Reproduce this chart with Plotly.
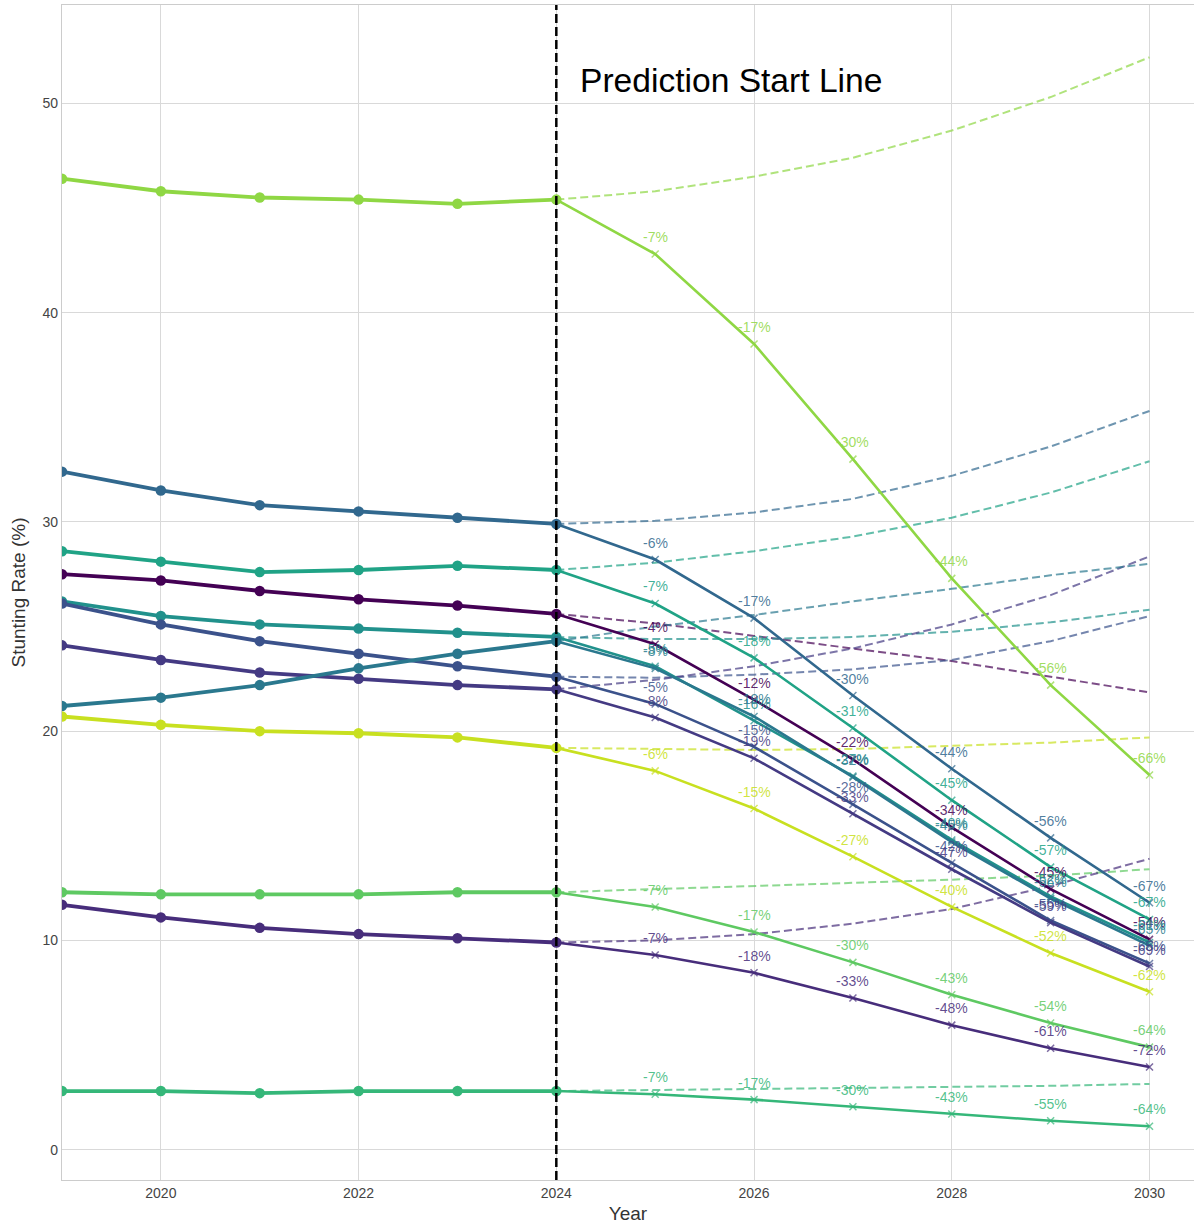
import plotly.graph_objects as go

years_hist = [2019, 2020, 2021, 2022, 2023, 2024]
years_pred = [2024, 2025, 2026, 2027, 2028, 2029, 2030]

series_names = ["A", "B", "C", "D", "E", "F", "G", "H", "I", "J", "K", "L"]

hist_rates = [
    [46.4, 45.8, 45.5, 45.4, 45.2, 45.4],
    [32.4, 31.5, 30.8, 30.5, 30.2, 29.9],
    [28.6, 28.1, 27.6, 27.7, 27.9, 27.7],
    [27.5, 27.2, 26.7, 26.3, 26.0, 25.6],
    [26.2, 25.5, 25.1, 24.9, 24.7, 24.5],
    [26.1, 25.1, 24.3, 23.7, 23.1, 22.6],
    [24.1, 23.4, 22.8, 22.5, 22.2, 22.0],
    [21.2, 21.6, 22.2, 23.0, 23.7, 24.3],
    [20.7, 20.3, 20.0, 19.9, 19.7, 19.2],
    [12.3, 12.2, 12.2, 12.2, 12.3, 12.3],
    [11.7, 11.1, 10.6, 10.3, 10.1, 9.9],
    [2.8, 2.8, 2.7, 2.8, 2.8, 2.8],
]

# intervention predictions 2025-2030
pred_rates = [
    [42.8, 38.5, 33.0, 27.3, 22.2, 17.9],
    [28.2, 25.4, 21.7, 18.2, 14.9, 11.8],
    [26.1, 23.5, 20.15, 16.7, 13.5, 11.0],
    [24.15, 21.5, 18.65, 15.4, 12.45, 10.05],
    [23.1, 20.5, 17.85, 14.8, 12.1, 9.9],
    [21.3, 19.25, 16.5, 13.7, 10.95, 8.9],
    [20.65, 18.7, 16.05, 13.4, 10.85, 8.75],
    [23.0, 20.7, 17.8, 14.7, 12.0, 9.75],
    [18.1, 16.3, 14.0, 11.6, 9.4, 7.55],
    [11.6, 10.4, 8.95, 7.4, 6.05, 4.9],
    [9.3, 8.45, 7.25, 5.95, 4.85, 3.95],
    [2.65, 2.39, 2.05, 1.7, 1.38, 1.12],
]

# baseline (no intervention) 2024-2030
baseline_rates = [
    [45.4, 45.8, 46.5, 47.4, 48.7, 50.3, 52.2],
    [29.9, 30.05, 30.45, 31.1, 32.2, 33.6, 35.3],
    [27.7, 28.05, 28.6, 29.3, 30.2, 31.4, 32.9],
    [25.6, 25.15, 24.55, 23.95, 23.35, 22.6, 21.85],
    [24.5, 24.4, 24.4, 24.5, 24.75, 25.2, 25.8],
    [22.6, 22.55, 22.7, 22.95, 23.4, 24.3, 25.5],
    [22.0, 22.45, 23.1, 23.95, 25.1, 26.5, 28.35],
    [24.3, 25.0, 25.55, 26.2, 26.8, 27.45, 28.0],
    [19.2, 19.15, 19.1, 19.15, 19.3, 19.45, 19.7],
    [12.3, 12.45, 12.6, 12.75, 12.9, 13.1, 13.4],
    [9.9, 10.0, 10.3, 10.8, 11.5, 12.6, 13.9],
    [2.8, 2.85, 2.88, 2.92, 2.98, 3.05, 3.14],
]

change_labels = [
    ["-7%", "-17%", "-30%", "-44%", "-56%", "-66%"],
    ["-6%", "-17%", "-30%", "-44%", "-56%", "-67%"],
    ["-7%", "-18%", "-31%", "-45%", "-57%", "-67%"],
    ["-4%", "-12%", "-22%", "-34%", "-45%", "-54%"],
    ["-5%", "-16%", "-27%", "-40%", "-52%", "-61%"],
    ["-5%", "-15%", "-28%", "-42%", "-55%", "-65%"],
    ["-8%", "-19%", "-33%", "-47%", "-59%", "-69%"],
    ["-8%", "-19%", "-32%", "-45%", "-56%", "-65%"],
    ["-6%", "-15%", "-27%", "-40%", "-52%", "-62%"],
    ["-7%", "-17%", "-30%", "-43%", "-54%", "-64%"],
    ["-7%", "-18%", "-33%", "-48%", "-61%", "-72%"],
    ["-7%", "-17%", "-30%", "-43%", "-55%", "-64%"],
]

colors = ["#8fd744", "#31688e", "#20a386", "#440154", "#21918c", "#3b528b",
          "#443a83", "#2a788e", "#c8e020", "#5ec962", "#472d7b", "#35b779"]

prediction_start = 2024


def rgba(hx, a):
    h = hx.lstrip("#")
    r, g, b = int(h[0:2], 16), int(h[2:4], 16), int(h[4:6], 16)
    return f"rgba({r},{g},{b},{a})"


fig = go.Figure()
FONT = "Liberation Sans, Arial, sans-serif"

# baseline dashed lines
for i, name in enumerate(series_names):
    fig.add_trace(go.Scatter(
        x=years_pred, y=baseline_rates[i], mode="lines",
        line=dict(color=rgba(colors[i], 0.7), width=2, dash="8px,4px"),
        showlegend=False, hoverinfo="skip"))

# predicted solid lines
for i, name in enumerate(series_names):
    ys = [hist_rates[i][-1]] + pred_rates[i]
    fig.add_trace(go.Scatter(
        x=years_pred, y=ys, mode="lines+markers",
        line=dict(color=colors[i], width=2.6),
        marker=dict(symbol="x-thin", size=[0] + [7] * len(pred_rates[i]),
                    line=dict(color=colors[i], width=1.5), color=colors[i]),
        showlegend=False))

# historical lines
for i, name in enumerate(series_names):
    fig.add_trace(go.Scatter(
        x=years_hist, y=hist_rates[i], mode="lines+markers",
        line=dict(color=colors[i], width=3.8),
        marker=dict(symbol="circle", size=10.5, color=colors[i]),
        showlegend=False))

annotations = []
for i, name in enumerate(series_names):
    for j, lab in enumerate(change_labels[i]):
        annotations.append(dict(
            x=years_pred[j + 1], y=pred_rates[i][j], text=lab, showarrow=False,
            xanchor="center", yanchor="middle", yshift=17,
            font=dict(family=FONT, size=14, color=rgba(colors[i], 0.85))))

annotations.append(dict(
    x=prediction_start + 0.22, y=51.1, text="Prediction Start Line", showarrow=False,
    xanchor="left", yanchor="middle",
    font=dict(family=FONT, size=33.6, color="black")))

fig.add_shape(type="line", x0=prediction_start, x1=prediction_start, xref="x",
              y0=0, y1=1, yref="paper",
              line=dict(color="black", width=2.5, dash="9px,4px"))

fig.update_layout(
    width=1194, height=1224,
    margin=dict(l=62, r=0, t=5, b=44),
    paper_bgcolor="white", plot_bgcolor="white",
    font=dict(family=FONT, color="#333333"),
    annotations=annotations,
    showlegend=False,
)
fig.update_xaxes(
    range=[2019, 2030.45], tickvals=[2020, 2022, 2024, 2026, 2028, 2030],
    automargin=False,
    showgrid=True, gridcolor="#d9d9d9", gridwidth=1,
    showline=True, linecolor="#cccccc", linewidth=1.2, mirror=True,
    zeroline=False, ticks="", tickfont=dict(size=14, color="#444444", family=FONT),
    title=dict(text="Year", font=dict(size=19, color="#333333", family=FONT), standoff=9),
)
fig.update_yaxes(
    range=[-1.45, 54.7], tickvals=[0, 10, 20, 30, 40, 50],
    automargin=False,
    showgrid=True, gridcolor="#d9d9d9", gridwidth=1,
    showline=True, linecolor="#cccccc", linewidth=1.2, mirror=True,
    zeroline=False, ticks="", tickfont=dict(size=14, color="#444444", family=FONT),
    title=dict(text="Stunting Rate (%)", font=dict(size=19, color="#333333", family=FONT), standoff=11),
)

fig.write_html("out.html", config={"displayModeBar": False},
               post_script="document.body.style.margin='0px';document.body.style.overflow='hidden';")
